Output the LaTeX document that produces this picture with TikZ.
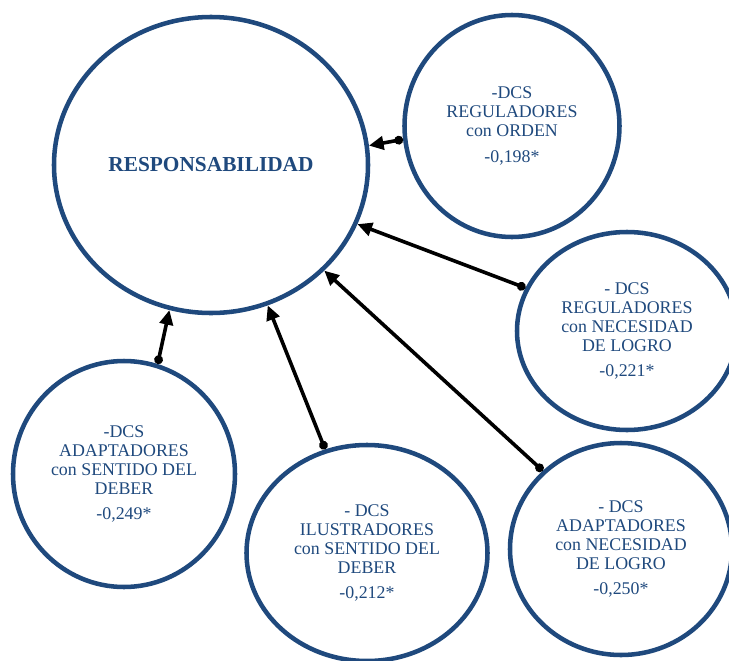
\documentclass[tikz,border=0pt]{standalone}
\usepackage{fontspec}
\setmainfont{Liberation Serif}
\usetikzlibrary{shapes.geometric,arrows.meta}
\definecolor{ringblue}{HTML}{1F497D}
\definecolor{textblue}{HTML}{1F497D}
\begin{document}
\begin{tikzpicture}[x=0.75pt,y=-0.75pt,
  ring/.style={ellipse,draw=ringblue,line width=3.4pt,inner sep=0pt,
    align=center,text=textblue,font=\fontsize{13.4}{14.25}\selectfont},
  link/.style={line width=2.7pt,
    {Circle[length=6.5pt]}-{Triangle[length=11pt,width=10pt]}}]
\useasboundingbox (0,0) rectangle (729,661);
\clip (0,0) rectangle (729,661);

% central construct
\node[ring,minimum width=235.5pt,minimum height=222pt,
      font=\fontsize{16}{18}\selectfont\bfseries] (resp) at (211,165)
  {RESPONSABILIDAD};

% predictor circles
\node[ring,minimum width=161.25pt,minimum height=166.5pt] (orden) at (512,126)
  {-DCS\\REGULADORES\\con ORDEN\\[5pt]-0,198*};
\node[ring,minimum width=165pt,minimum height=148.5pt] (reglogro) at (627,331)
  {- DCS\\REGULADORES\\con NECESIDAD\\DE LOGRO\\[5pt]-0,221*};
\node[ring,minimum width=166.5pt,minimum height=169.5pt] (adapdeber) at (124,474)
  {-DCS\\ADAPTADORES\\con SENTIDO DEL\\DEBER\\[5pt]-0,249*};
\node[ring,minimum width=180.75pt,minimum height=162pt] (ilusdeber) at (367,553)
  {- DCS\\ILUSTRADORES\\con SENTIDO DEL\\DEBER\\[5pt]-0,212*};
\node[ring,minimum width=166.5pt,minimum height=159pt] (adaplogro) at (621,549)
  {- DCS\\ADAPTADORES\\con NECESIDAD\\DE LOGRO\\[5pt]-0,250*};

% effects on the central construct
\draw[link] (orden.187.8) -- (resp.7.5);
\draw[link] (reglogro.157.5) -- (resp.-22.3);
\draw[link] (adaplogro.135.7) -- (resp.-43.7);
\draw[link] (ilusdeber.112.6) -- (resp.-68.1);
\draw[link] (adapdeber.73.9) -- (resp.-106.3);
\end{tikzpicture}
\end{document}
